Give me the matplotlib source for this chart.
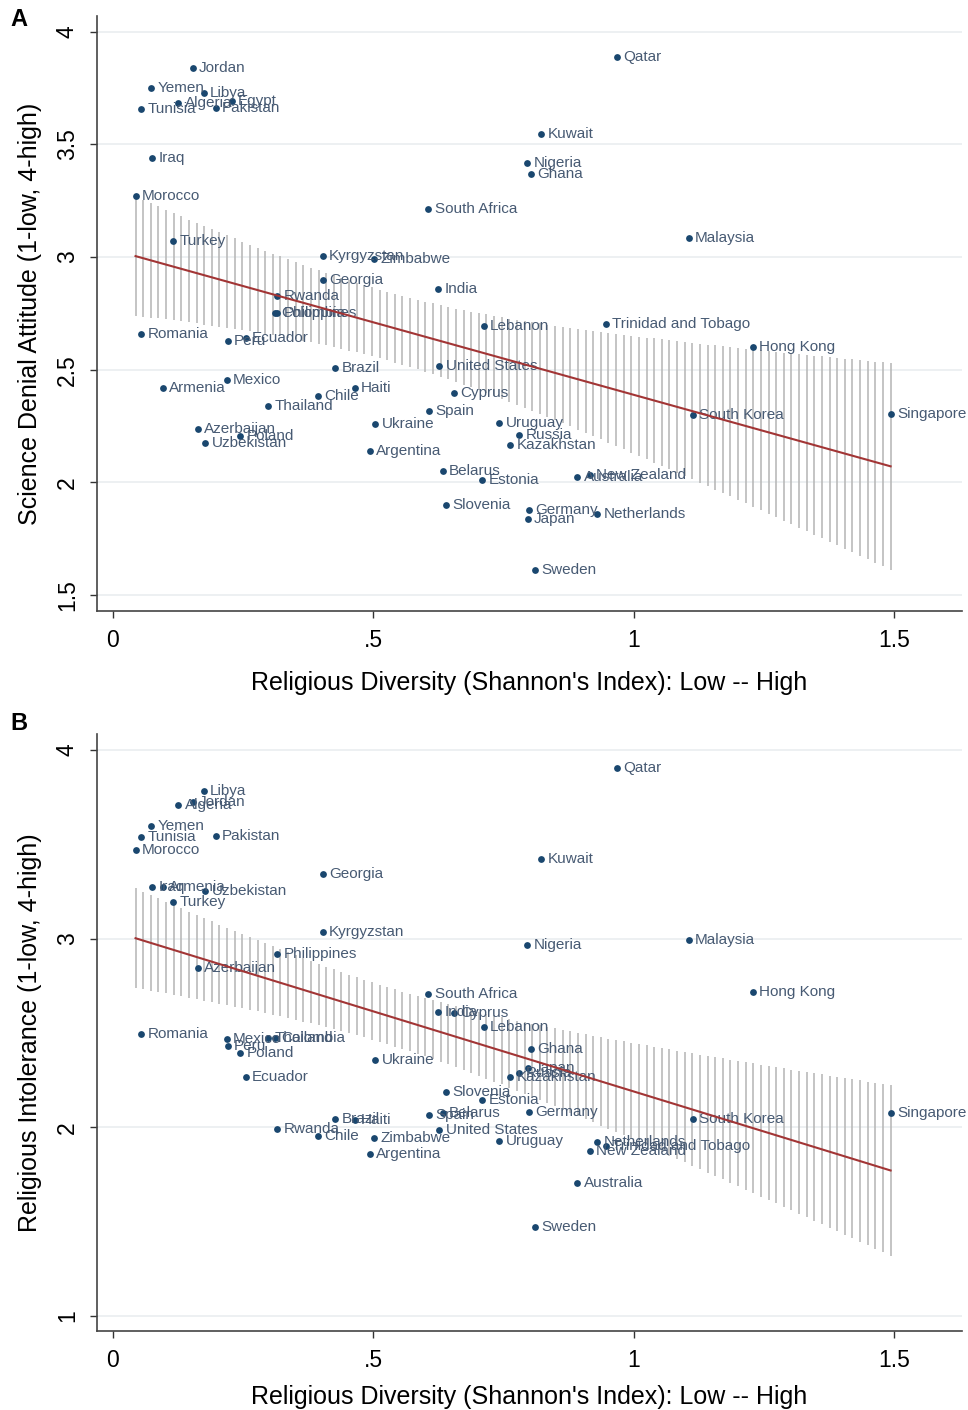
import numpy as np
import matplotlib.pyplot as plt

plt.rcParams['font.family'] = ['Liberation Sans', 'DejaVu Sans']

# country data
countries = ['Jordan', 'Yemen', 'Libya', 'Egypt', 'Algeria', 'Pakistan', 'Tunisia', 'Iraq',
             'Morocco', 'Turkey', 'Kyrgyzstan', 'Zimbabwe', 'Georgia', 'Rwanda', 'Colombia',
             'Philippines', 'Romania', 'Peru', 'Ecuador', 'Brazil', 'Mexico', 'Armenia', 'Haiti',
             'Chile', 'Thailand', 'Azerbaijan', 'Poland', 'Uzbekistan', 'Ukraine', 'Argentina',
             'India', 'South Africa', 'Lebanon', 'United States', 'Cyprus', 'Spain', 'Uruguay',
             'Russia', 'Kazakhstan', 'Belarus', 'Estonia', 'Slovenia', 'Germany', 'Japan',
             'Sweden', 'Australia', 'New Zealand', 'Netherlands', 'South Korea', 'Singapore',
             'Hong Kong', 'Trinidad and Tobago', 'Malaysia', 'Qatar', 'Kuwait', 'Nigeria', 'Ghana']

diversity = [0.154, 0.074, 0.175, 0.229, 0.126, 0.198, 0.055, 0.076,
             0.044, 0.116, 0.403, 0.502, 0.403, 0.316, 0.311,
             0.316, 0.055, 0.221, 0.255, 0.427, 0.219, 0.097, 0.465,
             0.395, 0.299, 0.163, 0.245, 0.178, 0.504, 0.493,
             0.625, 0.606, 0.712, 0.627, 0.655, 0.607, 0.742,
             0.780, 0.763, 0.634, 0.709, 0.640, 0.800, 0.797,
             0.810, 0.892, 0.916, 0.930, 1.113, 1.493,
             1.228, 0.946, 1.106, 0.968, 0.823, 0.796, 0.803]

denial = [3.839, 3.750, 3.728, 3.694, 3.682, 3.660, 3.656, 3.438,
          3.272, 3.071, 3.004, 2.992, 2.898, 2.828, 2.753,
          2.752, 2.657, 2.627, 2.642, 2.506, 2.454, 2.417, 2.417,
          2.383, 2.339, 2.238, 2.207, 2.176, 2.259, 2.140,
          2.857, 3.212, 2.695, 2.518, 2.399, 2.317, 2.265,
          2.209, 2.166, 2.050, 2.013, 1.899, 1.880, 1.840,
          1.611, 2.025, 2.032, 1.858, 2.299, 2.303,
          2.600, 2.703, 3.085, 3.887, 3.545, 3.416, 3.368]

intolerance = [3.723, 3.597, 3.784, np.nan, 3.710, 3.546, 3.541, 3.274,
               3.470, 3.193, 3.037, 1.944, 3.341, 1.989, 2.475,
               2.918, 2.495, 2.432, 2.265, 2.044, 2.467, 3.275, 2.037,
               1.956, 2.471, 2.843, 2.396, 3.254, 2.357, 1.859,
               2.613, 2.707, 2.530, 1.987, 2.604, 2.064, 1.928,
               2.289, 2.268, 2.075, 2.145, 2.186, 2.083, 2.312,
               1.474, 1.707, 1.876, 1.923, 2.046, 2.076,
               2.718, 1.903, 2.993, 3.905, 3.422, 2.966, 2.414]

xticks = [0, 0.5, 1, 1.5]
xticklabels = ['0', '.5', '1', '1.5']

navy = '#1a476f'
label_col = '#475a73'
fit_col = '#a23535'
ci_col = '#b4b4b4'
grid_col = '#eaedf0'


def draw_panel(ax, yvals, ylabel, yticks, yticklabels, ylim, xpad):
    x = np.array(diversity)
    y = np.array(yvals)
    ok = ~np.isnan(y)
    xo, yo = x[ok], y[ok]

    # linear fit with 95% CI of the mean prediction
    n = len(xo)
    slope, intercept = np.polyfit(xo, yo, 1)
    resid = yo - (intercept + slope * xo)
    s = np.sqrt(np.sum(resid ** 2) / (n - 2))
    sxx = np.sum((xo - xo.mean()) ** 2)
    xs = np.linspace(xo.min(), xo.max(), 100)
    yhat = intercept + slope * xs
    se = s * np.sqrt(1.0 / n + (xs - xo.mean()) ** 2 / sxx)
    tcrit = 2.005
    ax.vlines(xs, yhat - tcrit * se, yhat + tcrit * se, color=ci_col, lw=1.1, zorder=1)

    ax.scatter(xo, yo, s=24, color=navy, zorder=3, linewidths=0)
    for name, xi, yi in zip(countries, x, y):
        if np.isnan(yi):
            continue
        ax.annotate(name, (xi, yi), xytext=(4.5, 0), textcoords='offset points',
                    va='center', ha='left', fontsize=11, color=label_col, zorder=4)

    ax.plot(xs, yhat, color=fit_col, lw=1.5, zorder=5)

    ax.set_xlim(-0.03, 1.63)
    ax.set_ylim(*ylim)
    ax.set_xticks(xticks)
    ax.set_xticklabels(xticklabels)
    ax.set_yticks(yticks)
    ax.set_yticklabels(yticklabels, rotation=90, va='center')
    ax.tick_params(axis='both', labelsize=16.5, length=5, width=1, color='#333333', pad=8)
    ax.grid(axis='y', color=grid_col, lw=1.2)
    ax.set_axisbelow(True)
    for side in ['top', 'right']:
        ax.spines[side].set_visible(False)
    for side in ['left', 'bottom']:
        ax.spines[side].set_color('#444444')
        ax.spines[side].set_linewidth(1.2)
    ax.set_xlabel("Religious Diversity (Shannon's Index): Low -- High", fontsize=18, labelpad=xpad)
    ax.set_ylabel(ylabel, fontsize=18, labelpad=10)


fig = plt.figure(figsize=(9.68, 14.10), dpi=100)
ax1 = fig.add_axes([0.1002, 0.5667, 0.8936, 0.4220])
ax2 = fig.add_axes([0.1002, 0.0560, 0.8936, 0.4234])

draw_panel(ax1, denial, 'Science Denial Attitude (1-low, 4-high)',
           [1.5, 2, 2.5, 3, 3.5, 4], ['1.5', '2', '2.5', '3', '3.5', '4'], (1.43, 4.07), 13.5)
draw_panel(ax2, intolerance, 'Religious Intolerance (1-low, 4-high)',
           [1, 2, 3, 4], ['1', '2', '3', '4'], (0.92, 4.085), 9.5)

fig.text(10 / 968, 1 - 20 / 1410, 'A', fontsize=17, fontweight='bold', ha='left', va='center')
fig.text(10 / 968, 1 - 723 / 1410, 'B', fontsize=17, fontweight='bold', ha='left', va='center')

fig.savefig('out.png', dpi=100)
